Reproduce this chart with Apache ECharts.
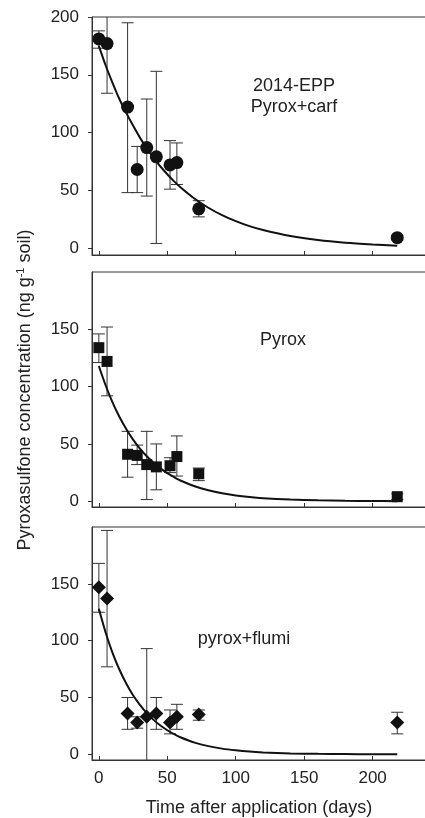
<!DOCTYPE html>
<html lang="en">
	<head>
		<meta charset="UTF-8">
		<title>Pyroxasulfone dissipation</title>
		<style>
			html, body { margin: 0; padding: 0; background: #fff; }
			#chart { width: 425px; height: 818px; }
		</style>
	</head>
	<body>
		<div id="chart"></div>
		<script src="https://cdn.jsdelivr.net/npm/echarts@6/dist/echarts.min.js"></script>
		<script>
			// sampling days (same for the three treatments)
			var days = [0, 6, 21, 28, 35, 42, 52, 57, 73, 218];

			// 2014-EPP Pyrox+carf
			var carfMean = [181, 177, 122, 68, 87, 79, 72, 74, 34, 9];
			var carfHigh = [188, 220, 195, 88, 129, 153, 93, 91, 41, 11];
			var carfLow = [173, 134, 48, 48, 45, 4, 51, 55, 27, 7];

			// Pyrox
			var pyroxMean = [134, 122, 41, 40, 32, 30, 31, 39, 24, 4];
			var pyroxHigh = [146, 152, 61, 49, 61, 50, 38, 57, 29, 6.5];
			var pyroxLow = [121, 92, 21, 32, 1.5, 10, 25, 22, 18, 1.5];

			// pyrox+flumi
			var flumiMean = [147, 137, 36, 28, 33, 36, 28, 33, 35, 28];
			var flumiHigh = [168, 197, 50, 33, 93, 50, 39, 44, 39, 37];
			var flumiLow = [125, 77, 22, 23, -10, 22, 18, 22, 30, 18];

			// fitted decay curves
			var fitDays = [0, 5, 10, 15, 20, 25, 30, 35, 40, 45, 50, 55, 60, 70, 80, 90, 100, 110, 120, 140, 160, 180, 200, 218];
			var carfFit = [175, 158, 143, 129, 117, 106, 95.6, 86.4, 78.1, 70.6, 63.9, 57.7, 52.2, 42.7, 34.9, 28.5, 23.3, 19, 15.6, 10.4, 6.9, 4.6, 3.1, 2.1];
			var pyroxFit = [118, 101, 86.2, 73.7, 63, 53.8, 46, 39.3, 33.6, 28.7, 24.5, 21, 17.9, 13.1, 9.6, 7, 5.1, 3.7, 2.7, 1.5, 0.8, 0.4, 0.2, 0.1];
			var flumiFit = [128, 107, 89.3, 74.6, 62.3, 52, 43.5, 36.3, 30.3, 25.3, 21.2, 17.7, 14.8, 10.3, 7.2, 5, 3.5, 2.4, 1.7, 0.8, 0.4, 0.2, 0.1, 0.05];

			// tick labels
			var xTicks = [0, 50, 100, 150, 200];
			var yTicksTop = [0, 50, 100, 150, 200];
			var yTicksLower = [0, 50, 100, 150];

			var FONT = "'Liberation Sans', Arial, sans-serif";
			var INK = "#111";
			var AXIS = "#333";

			function zip(a, b) {
				return a.map(function(v, i) { return [v, b[i]]; });
			}
			function zip3(a, b, c) {
				return a.map(function(v, i) { return [v, b[i], c[i]]; });
			}

			// vertical error bar with caps
			function renderErrorBar(params, api) {
				var x = api.value(0);
				var top = api.coord([x, api.value(2)]);
				var bot = api.coord([x, api.value(1)]);
				var w = 6;
				var st = { stroke: AXIS, lineWidth: 1 };
				return {
					type: "group",
					children: [
						{ type: "line", shape: { x1: top[0], y1: top[1], x2: bot[0], y2: bot[1] }, style: st },
						{ type: "line", shape: { x1: top[0] - w, y1: top[1], x2: top[0] + w, y2: top[1] }, style: st },
						{ type: "line", shape: { x1: bot[0] - w, y1: bot[1], x2: bot[0] + w, y2: bot[1] }, style: st }
					]
				};
			}

			var panels = [
				{ top: 17, height: 238, ymin: -6, yTicks: yTicksTop, showX: false,
					mean: carfMean, low: carfLow, high: carfHigh, fit: carfFit, symbol: "circle", size: 13 },
				{ top: 272, height: 235, ymin: -5, yTicks: yTicksLower, showX: false,
					mean: pyroxMean, low: pyroxLow, high: pyroxHigh, fit: pyroxFit, symbol: "rect", size: 11 },
				{ top: 527, height: 233, ymin: -5, yTicks: yTicksLower, showX: true,
					mean: flumiMean, low: flumiLow, high: flumiHigh, fit: flumiFit, symbol: "diamond", size: 14 }
			];

			var grids = [], xAxes = [], yAxes = [], series = [];
			panels.forEach(function(p, i) {
				grids.push({
					left: 92, right: -1, top: p.top, height: p.height,
					show: true, borderColor: AXIS, borderWidth: 1,
					outerBoundsMode: "none"
				});
				xAxes.push({
					gridIndex: i, type: "value", min: -5, max: 239, splitNumber: 5,
					axisLine: { onZero: false, lineStyle: { color: AXIS } },
					axisTick: { inside: true, length: 4, customValues: xTicks, lineStyle: { color: AXIS } },
					axisLabel: { show: p.showX, customValues: xTicks, margin: 10, color: "#222", fontSize: 17, fontFamily: FONT },
					splitLine: { show: false }
				});
				yAxes.push({
					gridIndex: i, type: "value", min: p.ymin, max: 200, splitNumber: 4,
					axisLine: { show: true, onZero: false, lineStyle: { color: AXIS } },
					axisTick: { show: true, length: 4, customValues: p.yTicks, lineStyle: { color: AXIS } },
					axisLabel: { customValues: p.yTicks, margin: 13, color: "#222", fontSize: 17, fontFamily: FONT },
					splitLine: { show: false }
				});
				series.push({
					type: "custom", xAxisIndex: i, yAxisIndex: i, clip: true, z: 2,
					renderItem: renderErrorBar,
					encode: { x: 0, y: [1, 2] },
					data: zip3(days, p.low, p.high)
				});
				series.push({
					type: "line", xAxisIndex: i, yAxisIndex: i, z: 3,
					showSymbol: false, smooth: 0.3,
					lineStyle: { color: INK, width: 2 },
					data: zip(fitDays, p.fit)
				});
				series.push({
					type: "scatter", xAxisIndex: i, yAxisIndex: i, z: 4,
					symbol: p.symbol, symbolSize: p.size,
					itemStyle: { color: INK, opacity: 1 },
					data: zip(days, p.mean)
				});
			});

			var textStyle = { fill: "#222", fontSize: 18, fontFamily: FONT, align: "center", verticalAlign: "middle" };
			function label(x, y, text, extra) {
				return { type: "text", x: x, y: y, style: Object.assign({ text: text }, textStyle, extra || {}) };
			}

			var chart = echarts.init(document.getElementById("chart"), null, { renderer: "canvas" });
			chart.setOption({
				animation: false,
				grid: grids,
				xAxis: xAxes,
				yAxis: yAxes,
				series: series,
				graphic: [
					label(294, 97, "2014-EPP\nPyrox+carf", { lineHeight: 21 }),
					label(283, 340, "Pyrox"),
					label(244, 639, "pyrox+flumi"),
					label(259, 808, "Time after application (days)"),
					{
						type: "text", x: 25, y: 390, rotation: Math.PI / 2,
						style: {
							text: "{a|Pyroxasulfone concentration (ng g}{s|-1}{a| soil)}",
							align: "center", verticalAlign: "middle",
							rich: {
								a: { fill: "#222", fontSize: 18, fontFamily: FONT, lineHeight: 20 },
								s: { fill: "#222", fontSize: 11, fontFamily: FONT, verticalAlign: "top", lineHeight: 20 }
							}
						}
					}
				]
			});
		</script>
	</body>
</html>
